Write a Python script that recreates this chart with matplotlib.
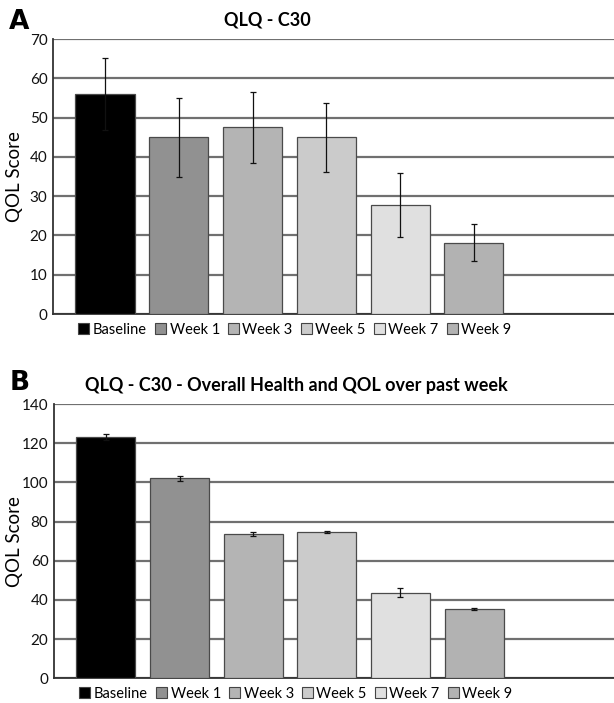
import matplotlib
matplotlib.use("Agg")
import matplotlib.pyplot as plt
from matplotlib.patches import Patch
import numpy as np

plt.rcParams['font.family'] = ['Lato', 'DejaVu Sans']

categories = ["Baseline", "Week 1", "Week 3", "Week 5", "Week 7", "Week 9"]
colors = ["#000000", "#919191", "#b4b4b4", "#cbcbcb", "#e0e0e0", "#b2b2b2"]

a_values = [56, 45, 47.5, 45, 27.8, 18.2]
a_errors = [9.2, 10.1, 9.1, 8.8, 8.2, 4.6]
a_title = "QLQ - C30"
a_yticks = [0, 10, 20, 30, 40, 50, 60, 70]

b_values = [123, 102, 73.5, 74.7, 43.8, 35.5]
b_errors = [1.5, 1.5, 1.0, 0.5, 2.2, 0.5]
b_title = "QLQ - C30 - Overall Health and QOL over past week"
b_yticks = [0, 20, 40, 60, 80, 100, 120, 140]

fig = plt.figure(figsize=(6.14, 7.03), dpi=100)

def panel(rect, values, errors, yticks, title, title_x, title_y, letter, letter_y):
    ax = fig.add_axes(rect)
    x = np.arange(len(categories))
    ax.set_axisbelow(True)
    ax.bar(x, values, width=0.8, color=colors, edgecolor="#4a4a4a", linewidth=0.9, zorder=3)
    ax.errorbar(x, values, yerr=errors, fmt="none", ecolor="#111111", elinewidth=0.9,
                capsize=2.5, capthick=0.9, zorder=4)
    ax.set_xlim(-0.705, 6.9)
    ax.set_ylim(yticks[0], yticks[-1])
    ax.set_yticks(yticks)
    ax.set_xticks([])
    for s in ["top", "right"]:
        ax.spines[s].set_visible(False)
    ax.spines["left"].set_color("#333333")
    ax.spines["bottom"].set_color("#333333")
    ax.spines["left"].set_linewidth(1.3)
    ax.spines["bottom"].set_linewidth(1.3)
    ax.tick_params(axis="y", length=0, labelsize=11, pad=4, labelcolor="#111111")
    ax.yaxis.grid(True, color="#707070", linewidth=1.6)
    ax.set_ylabel("QOL Score", fontsize=13.5)
    axw = rect[2] * 614
    ax.yaxis.set_label_coords(-(rect[0] * 614 - 23) / axw, 0.5)
    fig.text(title_x, title_y, title, ha="center", va="center", fontsize=13, fontweight="bold")
    fig.text(0.015, letter_y, letter, ha="left", va="center", fontsize=19, fontweight="bold",
             family="DejaVu Sans")
    handles = [Patch(facecolor=c, edgecolor="#444444", linewidth=0.8) for c in colors]
    ax.legend(handles, categories, ncol=6, loc="upper left", bbox_to_anchor=(0.035, -0.01),
              frameon=False, fontsize=10.5, handlelength=0.75, handleheight=0.75,
              handletextpad=0.25, columnspacing=0.55, borderaxespad=0)
    return ax

panel([0.0863, 0.5533, 0.9137, 0.3912], a_values, a_errors, a_yticks, a_title,
      267 / 614, 1 - 20 / 703, "A", 1 - 22 / 703)
panel([0.0880, 0.0351, 0.9120, 0.3902], b_values, b_errors, b_yticks, b_title,
      296 / 614, 1 - 385 / 703, "B", 1 - 383 / 703)

fig.savefig("out.png", dpi=100)
